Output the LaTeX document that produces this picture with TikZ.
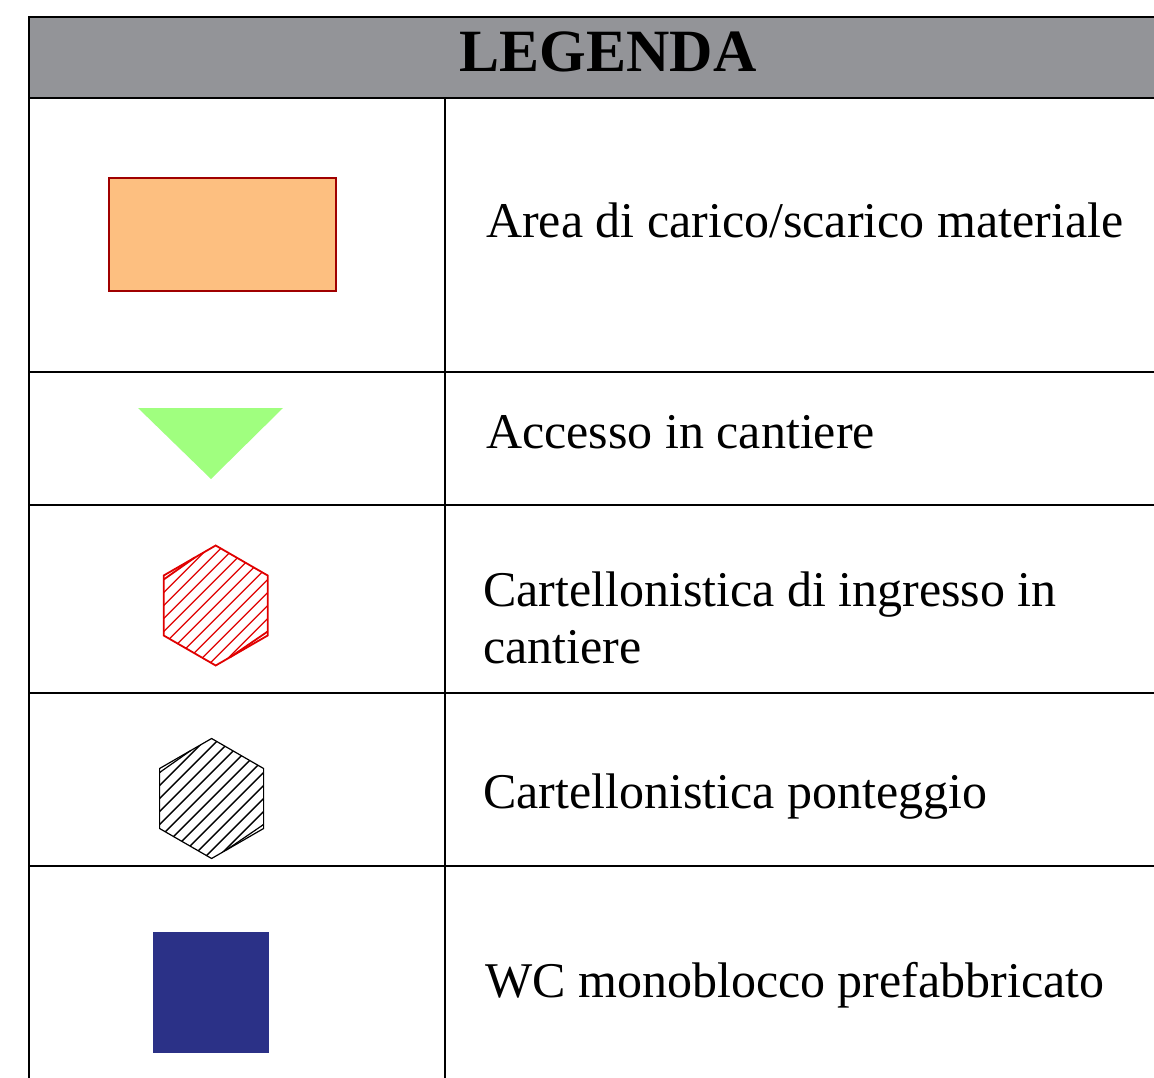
\documentclass[tikz,border=0pt]{standalone}
\usepackage{fontspec}
\setmainfont{Liberation Serif}
\usetikzlibrary{calc}
\definecolor{headgray}{HTML}{939498}
\definecolor{areafill}{HTML}{FDBF80}
\definecolor{areadraw}{HTML}{A00000}
\definecolor{accgreen}{HTML}{A0FF7F}
\definecolor{signred}{HTML}{E00000}
\definecolor{wcblue}{HTML}{2B3187}
% hatched sign: centre, colour, outline width
\newcommand{\hexsign}[3]{%
	\coordinate (t) at ($(#1)+(0,-60)$); \coordinate (ur) at ($(#1)+(52,-30)$);
	\coordinate (lr) at ($(#1)+(52,30)$); \coordinate (b) at ($(#1)+(0,60)$);
	\coordinate (ll) at ($(#1)+(-52,30)$); \coordinate (ul) at ($(#1)+(-52,-30)$);
	\coordinate (ula) at ($(#1)+(-52,-26)$); \coordinate (ulb) at ($(ul)!0.6!(t)$);
	\coordinate (lra) at ($(#1)+(52,26)$); \coordinate (lrb) at ($(lr)!0.72!(b)$);
	\begin{scope}
		\clip (t) -- (ur) -- (lra) -- (lrb) -- (b) -- (ll) -- (ula) -- (ulb) -- cycle;
		\foreach \k in {-130,-117,...,130}
			\draw[#2, line width=1.3pt] ($(#1)+(\k-70,70)$) -- ($(#1)+(\k+70,-70)$);
	\end{scope}
	\draw[#2, line width=#3] (t) -- (ur) -- (lr) -- (b) -- (ll) -- (ul) -- cycle;
	\draw[#2, line width=#3] (ula) -- (ulb) (lra) -- (lrb);
}
\begin{document}
\begin{tikzpicture}[x=1pt,y=-1pt,
	tabrule/.style={line width=2pt},
	legtext/.style={anchor=base west, inner sep=0pt, font=\fontsize{50}{52}\selectfont}]
	\useasboundingbox (0,0) rectangle (1154,1078);
	% header
	\fill[headgray] (29,17) rectangle (1160,98);
	\draw[line width=2.5pt] (1160,17) -- (29,17) -- (29,1082);
	\draw[line width=2.5pt] (29,98) -- (1160,98);
	\node[anchor=base, inner sep=0pt, font=\fontsize{60}{60}\selectfont\bfseries] (title) at (608,72) {LEGENDA};
	% rows
	\foreach \y in {372,505,693,866} \draw[tabrule] (29,\y) -- (1160,\y);
	\draw[tabrule] (445,98) -- (445,1082);
	% symbols
	\draw[areadraw, fill=areafill, line width=2pt] (109,178) rectangle (336,291);
	\fill[accgreen] (138,408) -- (283,408) -- (211,479) -- cycle;
	\hexsign{215.7,605.5}{signred}{1.8pt}
	\hexsign{211.6,798.5}{black}{1.2pt}
	\fill[wcblue] (153,932) rectangle (269,1053);
	% texts
	\node[legtext] (area) at (486,238) {Area di carico/scarico materiale};
	\node[legtext] (accesso) at (486,448) {Accesso in cantiere};
	\node[legtext] (ingresso) at (483,606) {Cartellonistica di ingresso in};
	\node[legtext] (ingressob) at (483,663) {cantiere};
	\node[legtext] (ponteggio) at (483,808) {Cartellonistica ponteggio};
	\node[legtext] (wc) at (485,997) {WC monoblocco prefabbricato};
\end{tikzpicture}
\end{document}
